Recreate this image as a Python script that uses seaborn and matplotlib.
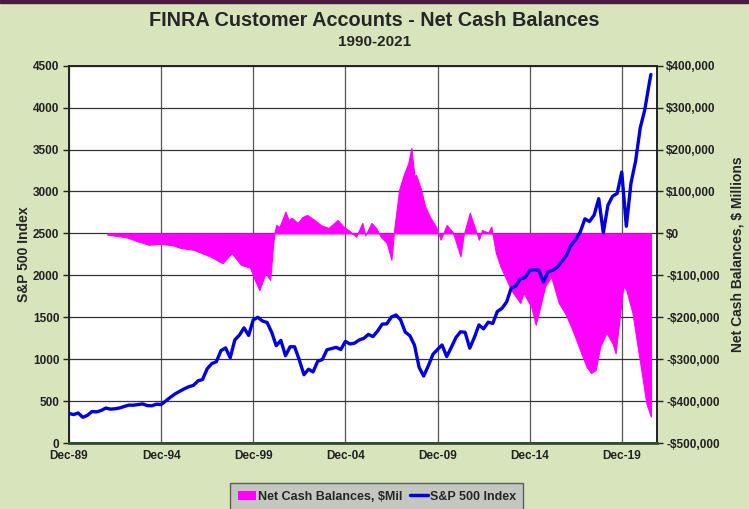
import pandas as pd
import matplotlib
matplotlib.use("Agg")
import matplotlib.pyplot as plt
import matplotlib.dates as mdates
from matplotlib.patches import Patch, Rectangle
from matplotlib.lines import Line2D
from matplotlib.ticker import FuncFormatter, MultipleLocator
import seaborn as sns

# S&P 500, quarter-end closes Dec-89 .. Jun-21, plus Jul-21
spx_vals = [353,
    339, 358, 306, 330,   375, 371, 388, 417,   404, 408, 418, 436,
    452, 451, 459, 466,   446, 444, 463, 459,   500, 545, 584, 616,
    645, 671, 687, 741,   757, 885, 947, 970,   1102, 1134, 1017, 1229,
    1286, 1373, 1283, 1469,   1499, 1455, 1437, 1320,   1160, 1224, 1041, 1148,
    1147, 990, 815, 880,   848, 975, 996, 1112,   1126, 1141, 1115, 1212,
    1181, 1191, 1229, 1248,   1295, 1270, 1336, 1418,   1421, 1503, 1527, 1468,
    1323, 1280, 1166, 903,   798, 919, 1057, 1115,   1169, 1031, 1141, 1258,
    1326, 1321, 1131, 1258,   1408, 1362, 1441, 1426,   1569, 1606, 1682, 1848,
    1872, 1960, 1972, 2059,   2068, 2063, 1920, 2044,   2060, 2099, 2168, 2239,
    2363, 2423, 2519, 2674,   2641, 2718, 2914, 2507,   2834, 2942, 2977, 3231,
    2585, 3100, 3363, 3756,   3973, 4298]
spx_dates = list(pd.date_range("1989-12-01", periods=len(spx_vals), freq="3MS"))
spx_dates.append(pd.Timestamp("2021-07-01"))
spx_vals.append(4395)

# Net cash balances ($ millions)
cash_dates = ["1992-01", "1992-07", "1993-02", "1993-08", "1994-04", "1994-12", "1995-07",
    "1996-01", "1996-09", "1997-08", "1998-04", "1998-10", "1999-04", "1999-10",
    "2000-01", "2000-04", "2000-08", "2000-11", "2001-01", "2001-02", "2001-03",
    "2001-05", "2001-09", "2001-11", "2002-01", "2002-05", "2002-08", "2002-11",
    "2003-04", "2003-08", "2004-01", "2004-07", "2004-11", "2005-02", "2005-07",
    "2005-11", "2006-01", "2006-05", "2006-08", "2006-11", "2007-03", "2007-06",
    "2007-08", "2007-11", "2008-02", "2008-05", "2008-07", "2008-09", "2008-10",
    "2009-01", "2009-04", "2009-07", "2009-11", "2010-02", "2010-06", "2010-10",
    "2011-03", "2011-05", "2011-09", "2011-11", "2012-03", "2012-05", "2012-09",
    "2012-11", "2013-02", "2013-05", "2013-08", "2013-12", "2014-03", "2014-06",
    "2014-08", "2015-01", "2015-04", "2015-06", "2015-10", "2016-02", "2016-07",
    "2016-11", "2017-03", "2017-08", "2018-01", "2018-04", "2018-07", "2018-10",
    "2019-02", "2019-06", "2019-08", "2019-10", "2020-01", "2020-03", "2020-07",
    "2020-10", "2021-01", "2021-04", "2021-07"]
cash_vals = [-3000, -6000, -10000, -18000, -27000, -25000, -28000,
    -35000, -39000, -55000, -71000, -47000, -75000, -82000,
    -111000, -135000, -95000, -111000, -23000, 5000, 20000,
    15000, 52000, 32000, 37000, 25000, 39000, 44000,
    32000, 20000, 13000, 32000, 15000, 8000, -8000,
    25000, -5000, 25000, 13000, -8000, -23000, -63000,
    16000, 104000, 140000, 168000, 204000, 135000, 140000,
    108000, 64000, 40000, 16000, -15000, 20000, 3000,
    -55000, -5000, 49000, 28000, -15000, 8000, 2000,
    16000, -47000, -79000, -103000, -135000, -151000, -166000,
    -142000, -175000, -218000, -190000, -127000, -103000, -166000,
    -190000, -222000, -270000, -318000, -333000, -326000, -270000,
    -237000, -262000, -286000, -222000, -127000, -135000, -190000,
    -262000, -333000, -405000, -437000]

spx = pd.DataFrame({"date": spx_dates, "value": spx_vals})
cash = pd.DataFrame({"date": pd.to_datetime(cash_dates), "value": cash_vals})

sns.set_theme(style="white")
plt.rcParams["font.family"] = ["Liberation Sans", "DejaVu Sans"]
plt.rcParams["font.weight"] = "bold"

bg = "#D8E4BC"
fig = plt.figure(figsize=(7.49, 5.09), dpi=100, facecolor=bg)
fig.add_artist(Rectangle((0, 1 - 3 / 509), 1, 3 / 509, transform=fig.transFigure,
                         color="#4A1A40", zorder=5))

ax = fig.add_axes([69 / 749, 66 / 509, 587.5 / 749, 377.3 / 509])   # net cash (drawn below)
ax2 = ax.twinx()                                                     # S&P 500 (drawn on top)

# net cash area
ax.fill_between(cash["date"], cash["value"], 0, color="#FF00FF", lw=0.8,
                edgecolor="#FF00FF", zorder=2)
ax.set_ylim(-500000, 400000)
ax.yaxis.set_major_locator(MultipleLocator(100000))
ax.yaxis.set_major_formatter(FuncFormatter(
    lambda v, p: f"-${abs(v):,.0f}" if v < 0 else f"${v:,.0f}"))
ax.yaxis.tick_right()
ax.yaxis.set_label_position("right")
ax.set_ylabel("Net Cash Balances, $ Millions", fontsize=10, fontweight="bold", labelpad=8)
ax.grid(True, axis="y", color="#333333", lw=0.9, zorder=0)
ax.grid(True, axis="x", color="#555555", lw=0.9, zorder=0)
ax.set_axisbelow(True)

# S&P line
sns.lineplot(data=spx, x="date", y="value", ax=ax2, color="#0000DD", lw=2.4, zorder=3)
ax2.set_ylim(0, 4500)
ax2.yaxis.set_major_locator(MultipleLocator(500))
ax2.yaxis.tick_left()
ax2.yaxis.set_label_position("left")
ax2.set_ylabel("S&P 500 Index", fontsize=10, fontweight="bold", labelpad=1)
ax2.set_xlabel("")

ax.set_xlim(pd.Timestamp("1989-12-01"), pd.Timestamp("2021-10-20"))
ticks = pd.to_datetime(["1989-12-01", "1994-12-01", "1999-12-01", "2004-12-01",
                        "2009-12-01", "2014-12-01", "2019-12-01"])
ax.set_xticks(ticks)
ax.xaxis.set_major_formatter(mdates.DateFormatter("%b-%y"))

for a in (ax, ax2):
    a.set_facecolor("white")
    a.tick_params(axis="both", which="major", labelsize=8.5, length=4, width=1,
                  direction="out", color="#222222", labelcolor="#222222", pad=3)
    for s in a.spines.values():
        s.set_color("#222222")
        s.set_linewidth(1.2)
ax2.patch.set_visible(False)
ax.tick_params(axis="x", length=0, pad=5)
ax2.tick_params(axis="x", length=0)
ax2.spines["bottom"].set_color("#2F4F2F")
ax2.spines["bottom"].set_linewidth(2)
for lab in ax.get_xticklabels() + ax.get_yticklabels() + ax2.get_yticklabels():
    lab.set_fontweight("bold")

fig.text(0.5, 1 - 20 / 509, "FINRA Customer Accounts - Net Cash Balances", ha="center",
         va="center", fontsize=14.3, fontweight="bold")
fig.text(0.5, 1 - 42 / 509, "1990-2021", ha="center", va="center", fontsize=11,
         fontweight="bold")

handles = [Patch(facecolor="#FF00FF", edgecolor="none"),
           Line2D([0], [0], color="#0000DD", lw=2.5)]
leg = fig.legend(handles, ["Net Cash Balances, $Mil", "S&P 500 Index"], loc="upper center",
                 bbox_to_anchor=(0.503, 1 - 483 / 509), borderaxespad=0, ncol=2,
                 frameon=True, fancybox=False, handlelength=1.5, handletextpad=0.1,
                 columnspacing=0.6, borderpad=0.6, prop={"weight": "bold", "size": 9})
leg.get_frame().set_facecolor("#C0C0C0")
leg.get_frame().set_edgecolor("#404040")
leg.get_frame().set_linewidth(1)

fig.savefig("out.png", dpi=100, facecolor=bg)
